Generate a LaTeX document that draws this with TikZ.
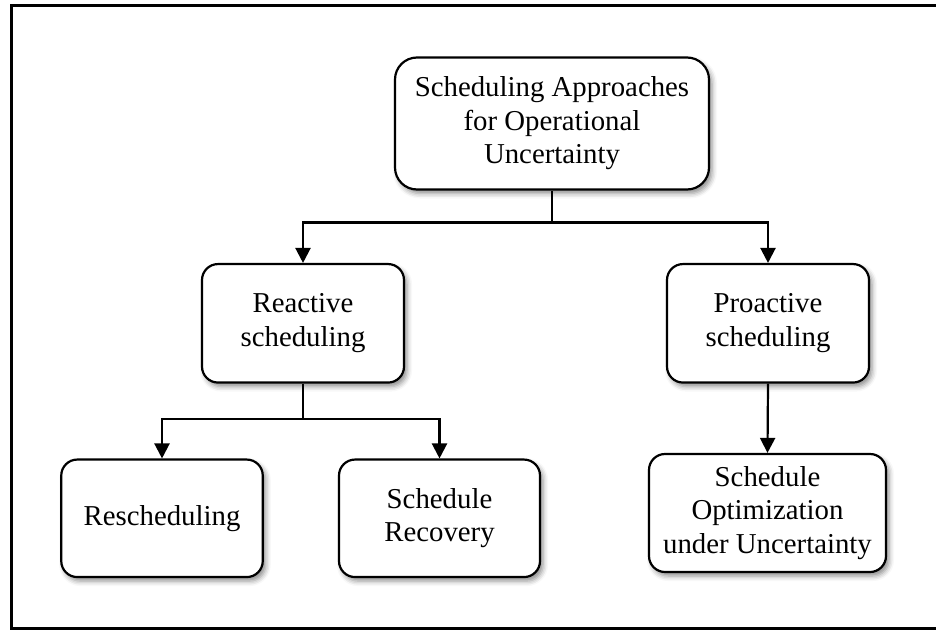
\documentclass[tikz,border=0pt]{standalone}
\usepackage{fontspec}
\setmainfont{Liberation Serif}
\usetikzlibrary{arrows.meta,shadows.blur}
\tikzset{
  box/.style={draw=black, line width=2.2pt, rounded corners=16pt, fill=white,
    align=center, inner sep=0pt,
    font=\fontsize{28.8}{33.5}\selectfont,
    blur shadow={shadow xshift=3pt, shadow yshift=-4pt, shadow blur radius=5pt, shadow opacity=45}},
  link/.style={draw=black, line width=2.2pt},
  arr/.style={link, -{Triangle[width=15pt,length=15pt]}},
}
\begin{document}
\begin{tikzpicture}[x=1pt,y=-1pt]
\useasboundingbox (0,0) rectangle (936,632);
\draw[line width=3pt] (11.5,5) rectangle (945,628.5);

\node[box, rounded corners=22pt, minimum width=314pt, minimum height=132pt] (top) at (552,123.5)
  {Scheduling Approaches\\for Operational\\Uncertainty};
\node[box, minimum width=202pt, minimum height=118.5pt] (react) at (303,323.3)
  {Reactive\\scheduling};
\node[box, minimum width=202pt, minimum height=118.5pt] (proact) at (768,323.3)
  {Proactive\\scheduling};
\node[box, minimum width=201.5pt, minimum height=117.5pt] (resch) at (162,518.3)
  {Rescheduling};
\node[box, minimum width=201pt, minimum height=117.5pt] (recov) at (439.5,518.3)
  {Schedule\\Recovery};
\node[box, minimum width=237pt, minimum height=118pt] (optim) at (767.5,513)
  {Schedule\\Optimization\\under Uncertainty};

\coordinate (j1) at (552,222.5);
\coordinate (j2) at (303,419);
\draw[link] (top.south) -- (j1);
\draw[arr] (j1) -| (react.north);
\draw[arr] (j1) -| (proact.north);
\draw[link] (react.south) -- (j2);
\draw[arr] (j2) -| (resch.north);
\draw[arr] (j2) -| (recov.north);
\draw[arr] (proact.south) -- (optim.north);
\end{tikzpicture}
\end{document}
